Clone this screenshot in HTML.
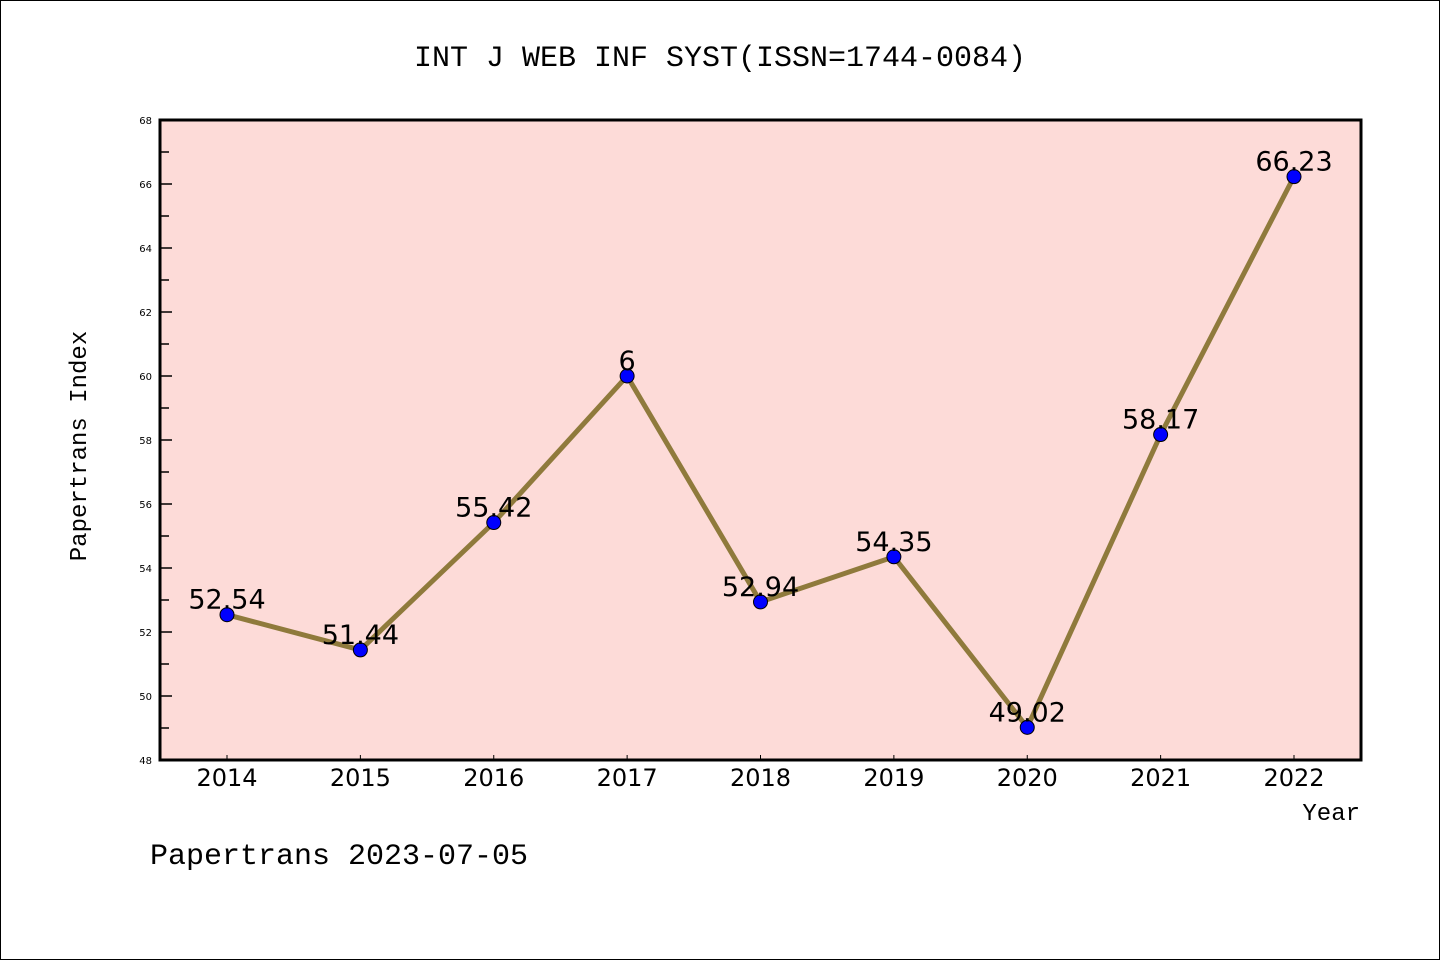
<!DOCTYPE html>
<html><head><meta charset="utf-8"><style>
body{margin:0;background:#fff;}
svg{display:block;font-family:"Liberation Mono","DejaVu Sans Mono",monospace;}
</style></head><body>
<svg id="c" width="1440" height="960">
<rect x="0.5" y="0.5" width="1439" height="959" fill="#fff" stroke="#000"/>
<text x="720" y="66" text-anchor="middle" font-size="30">INT J WEB INF SYST(ISSN=1744-0084)</text>
<rect x="160" y="120" width="1201" height="640" fill="#fddbd8"/>
<g id="axes"></g>
<g id="marks"></g>
<rect x="160" y="120" width="1201" height="640" fill="none" stroke="#000" stroke-width="3"/>
<text x="86" y="446" text-anchor="middle" font-size="24" transform="rotate(-90 86 446)">Papertrans Index</text>
<text x="1360" y="820" text-anchor="end" font-size="24">Year</text>
<text x="150" y="864" font-size="30">Papertrans 2023-07-05</text>
</svg>
<script>
const years=[2014,2015,2016,2017,2018,2019,2020,2021,2022];
const values=[52.54,51.44,55.42,60,52.94,54.35,49.02,58.17,66.23];
const labels=["52.54","51.44","55.42","6","52.94","54.35","49.02","58.17","66.23"];
const yTicks=[48,50,52,54,56,58,60,62,64,66,68];
const NS="http://www.w3.org/2000/svg";
const x=i=>227+i*(1294-227)/(years.length-1);
const y=v=>760-(v-48)*640/20;
function mk(t,a,p){const e=document.createElementNS(NS,t);for(const k in a)e.setAttribute(k,a[k]);p.appendChild(e);return e;}
const ax=document.getElementById('axes'),mg=document.getElementById('marks');
for(let v=48;v<=68;v++){
 const l=mk('line',{x1:160,x2:v%2?169:172,y1:y(v),y2:y(v),stroke:'#000','stroke-width':1.5},ax);
 
 
}
yTicks.forEach(v=>{
 const t=mk('text',{x:152,y:y(v)+4,'text-anchor':'end','font-size':10,'font-family':'DejaVu Sans, sans-serif'},ax);t.textContent=v;
 
 
});
years.forEach((yr,i)=>{
 const l=mk('line',{x1:x(i),x2:x(i),y1:760,y2:755,stroke:'#000','stroke-width':1},ax);
 
 
 const t=mk('text',{x:x(i),y:786,'text-anchor':'middle','font-size':24,'font-family':'DejaVu Sans, sans-serif'},ax);t.textContent=yr;
 
 
});
const pl=mk('polyline',{points:values.map((v,i)=>x(i)+','+y(v)).join(' '),fill:'none',stroke:'#8f7a3c','stroke-width':5},mg);


values.forEach((v,i)=>{
 const c=mk('circle',{cx:x(i),cy:y(v),r:7,fill:'#0000ff',stroke:'#000','stroke-width':1},mg);
 
 
 const t=mk('text',{x:x(i),y:y(v)-6,'text-anchor':'middle','font-size':27,'font-family':'DejaVu Sans, sans-serif'},mg);t.textContent=labels[i];
 
 
});
</script>
</body></html>
